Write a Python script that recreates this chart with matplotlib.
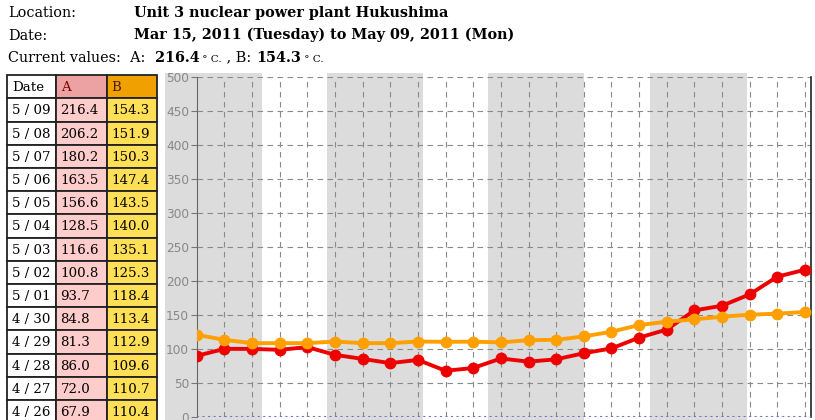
import matplotlib.pyplot as plt
import pandas as pd

# daily readings, Apr 17 .. May 09 2011 (deg C)
dates = pd.date_range('2011-04-17', '2011-05-09', freq='D')
temp_a = [89.8, 100.1, 100.1, 98.7, 102.7, 91.3, 85.4, 79.1, 83.9, 67.9, 72.0, 86.0,
          81.3, 84.8, 93.7, 100.8, 116.6, 128.5, 156.6, 163.5, 180.2, 206.2, 216.4]
temp_b = [120.8, 113.4, 108.5, 108.5, 108.5, 110.9, 108.5, 108.5, 110.9, 110.4, 110.7, 109.6,
          112.9, 113.4, 118.4, 125.3, 135.1, 140.0, 143.5, 147.4, 150.3, 151.9, 154.3]
y_ticks = [0, 50, 100, 150, 200, 250, 300, 350, 400, 450, 500]
# grey background bands (in day index units)
shade_spans = [(-1.15, 2.35), (4.70, 8.20), (10.55, 14.02), (16.39, 19.89)]
n_table_rows = 14

W, H = 815, 420
fig = plt.figure(figsize=(W / 100, H / 100), dpi=100)

def fx(px):
    return px / W

def fy(py):
    return 1 - py / H

# overlay axes in pixel coords for the header text and the table
ov = fig.add_axes([0, 0, 1, 1])
ov.set_xlim(0, W)
ov.set_ylim(H, 0)
ov.axis('off')

serif = 'DejaVu Serif'
fs = 10.4
ov.text(8, 17.3, 'Location:', family=serif, size=fs, va='baseline')
ov.text(134, 17.3, 'Unit 3 nuclear power plant Hukushima', family=serif, size=fs,
        weight='bold', va='baseline')
ov.text(8, 39.5, 'Date:', family=serif, size=fs, va='baseline')
ov.text(134, 39.5, 'Mar 15, 2011 (Tuesday) to May 09, 2011 (Mon)', family=serif, size=fs,
        weight='bold', va='baseline')

# "Current values" line built from chained pieces
pieces = [('Current values:  A:  ', fs, 'normal'),
          (f'{temp_a[-1]:.1f}', fs, 'bold'),
          (' \u00b0 C.', 7.5, 'normal'),
          (' , B: ', fs, 'normal'),
          (f'{temp_b[-1]:.1f}', fs, 'bold'),
          (' \u00b0 C.', 7.5, 'normal')]
prev = None
for txt, sz, wt in pieces:
    if prev is None:
        prev = ov.text(8, 61.7, txt, family=serif, size=sz, weight=wt, va='baseline')
    else:
        prev = ov.annotate(txt, xy=(1, 61.7), xycoords=(prev, ov.transData),
                           family=serif, size=sz, weight=wt, va='baseline', ha='left')

# table
col_x = [7.3, 56, 106.7, 156.7]
head_top, head_h, row_h = 75, 23.3, 23.2
head_fill = ['white', '#eca2a2', '#f0a000']
head_txt = ['Date', 'A', 'B']
head_col = ['black', '#7a0000', '#4a2000']
cell_fill = ['white', '#ffcccc', '#ffdf55']

for j in range(3):
    ov.add_patch(plt.Rectangle((col_x[j], head_top), col_x[j + 1] - col_x[j], head_h,
                               facecolor=head_fill[j], edgecolor='#222222', lw=1.3))
    ov.text(col_x[j] + 5, head_top + head_h / 2 + 1, head_txt[j], family=serif, size=9.6,
            color=head_col[j], va='center')

for i in range(n_table_rows):
    k = len(dates) - 1 - i
    vals = [f'{dates[k].month} / {dates[k].day:02d}', f'{temp_a[k]:.1f}', f'{temp_b[k]:.1f}']
    top = head_top + head_h + i * row_h
    for j in range(3):
        ov.add_patch(plt.Rectangle((col_x[j], top), col_x[j + 1] - col_x[j], row_h,
                                   facecolor=cell_fill[j], edgecolor='#222222', lw=1.3))
        ov.text(col_x[j] + 4.5, top + row_h / 2 + 1, vals[j], family=serif, size=9.6,
                va='center')

# chart
px_day = 27.65
x_left, x_right, y_top, y_zero = 196.7, 811, 76.7, 417
ax = fig.add_axes([fx(x_left), fy(y_zero), fx(x_right) - fx(x_left), fy(y_top) - fy(y_zero)])
ax.patch.set_alpha(0)
xs = list(range(len(dates)))

top_extra = 1 + 4 / (y_zero - y_top)
for a, b in shade_spans:
    ax.axvspan(a, b, ymin=-0.05, ymax=top_extra, color='#dcdcdc', lw=0, zorder=0.2,
               clip_on=False)

ax.plot(xs, temp_a, color='#ee0000', lw=2.8, marker='o', ms=7.5, zorder=3)
ax.plot(xs, temp_b, color='#ffa000', lw=2.8, marker='o', ms=7.5, zorder=4)
ax.axhline(0, color='#7070c8', lw=1.5, ls=':', zorder=5)

ax.set_xlim(0, (x_right - x_left) / px_day)
ax.set_ylim(0, 500)
ax.set_xticks(xs[1:])
ax.set_yticks(y_ticks)
ax.grid(True, color='#8a8a8a', lw=0.8, ls=(0, (5, 4)))
ax.tick_params(axis='x', length=0, labelbottom=False)
ax.tick_params(axis='y', length=4, pad=1.5, color='#777777', labelcolor='#888888',
               labelsize=8.7)
ax.spines['top'].set_visible(False)
ax.spines['bottom'].set_visible(False)
ax.spines['left'].set_color('#666666')
ax.spines['right'].set_color('#222222')
ax.spines['right'].set_linewidth(1.2)

fig.savefig('out.png', dpi=100)
